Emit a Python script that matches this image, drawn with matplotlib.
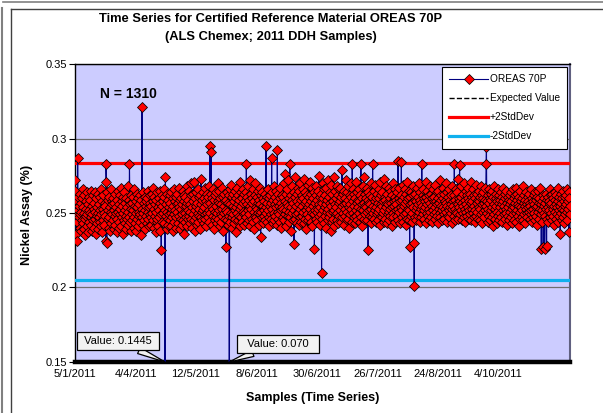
import numpy as np
import matplotlib.pyplot as plt
from matplotlib.lines import Line2D

plt.rcParams['font.family'] = ['Liberation Sans', 'DejaVu Sans']

# Ni assays, coded as thousandths above 0.200 % left to right
assay_codes = """
65 72 48 36 31 58 44 87 52 61  47 55 40 63 49 38 57 51 45 60  43 54 66 39 50 62 46 35 58 48  53 41 64 49 56 37 52 61 44 50  59 42 47 65 38 55 49 62 45 53
40 57 51 64 46 36 60 48 54 43  63 50 39 56 47 61 44 52 66 41  49 58 37 53 45 62 50 42 57 48  55 31 83 71 30 64 46 59 52 40  61 47 54 38 66 51 43 58 49 56
45 60 52 39 57 48 63 42 54 50  37 59 46 65 51 44 56 40 62 49  53 67 41 58 47 55 36 61 50 45  64 52 43 57 48 60 39 54 46 68  51 42 59 47 83 56 44 62 38 53
49 57 45 61 52 40 66 47 55 43  58 50 38 63 46 54 41 60 51 48  56 44 62 49 35 59 47 76 53 42  64 50 57 45 52 61 39 55 48 58  43 60 51 46 65 54 41 57 49 62
47 55 42 63 50 58 45 67 53 40  61 48 56 37 59 51 44 64 46 54  41 60 52 47 65 38 57 49 25 62  55 44 58 50 66 43 61 52 83 74  48 56 39 63 51 46 59 42 54 49
62 45 57 50 41 64 53 47 60 38  55 49 66 44 58 52 40 61 47 56  51 63 43 57 48 67 54 39 59 46  53 60 42 56 49 65 45 58 36 62  50 44 61 55 47 68 41 57 52 46
59 48 65 43 56 51 70 46 62 54  40 58 49 63 45 71 52 38 60 47  55 64 42 57 50 66 44 61 53 48  62 39 56 73 47 59 51 45 64 52  43 60 54 49 67 46 58 41 63 50
56 47 61 52 44 68 57 95 50 63  91 54 42 60 48 66 53 39 59 51  45 62 55 47 64 50 43 58 70 46  57 52 65 41 60 49 56 44 67 53  48 61 38 55 50 63 46 58 52 27
59 45 64 51 57 42 62 48 53 66  44 56 50 69 47 61 40 55 63 49  58 43 65 52 46 60 54 37 67 50  56 62 45 59 48 71 53 41 64 47  55 60 44 57 51 66 49 63 42 58
50 64 47 83 56 43 61 52 68 45  59 49 55 72 41 63 53 46 60 57  44 66 51 58 39 62 48 70 54 47  61 53 45 65 50 57 42 59 67 49  56 34 62 51 47 64 55 43 60 52
48 58 63 45 54 95 50 61 44 57  66 52 47 60 41 55 62 49 57 46  87 53 64 43 59 50 68 45 56 61  48 54 65 42 58 92 51 46 63 55  49 60 44 67 52 57 40 62 54 47
61 53 70 45 58 49 76 52 63 41  57 66 48 55 72 44 60 51 83 47  54 62 38 59 50 68 45 57 64 29  52 61 46 74 55 49 63 43 58 67  50 56 42 65 53 47 70 59 44 62
55 48 66 51 60 43 73 57 46 64  52 58 39 62 49 69 54 45 61 56  47 71 53 63 44 58 50 67 41 60  55 49 64 26 57 52 68 46 62 51  59 44 65 53 48 75 56 42 61 54
49 63 10 57 46 70 52 60 43 66  54 48 62 56 40 67 51 59 45 72  53 61 47 64 50 57 38 69 55 44  63 51 58 46 74 52 41 65 56 49  60 54 45 68 50 62 43 57 66 48
58 52 67 44 61 55 79 47 63 50  56 42 65 53 60 48 72 57 45 64  51 59 46 68 54 40 62 56 49 70  53 61 44 83 58 50 66 47 63 55  43 60 52 71 48 57 64 45 59 54
66 50 58 44 62 53 83 47 60 56  41 68 52 57 46 74 55 63 49 60  54 45 67 51 59 25 64 52 57 48  62 56 43 70 53 61 47 83 55 50  65 46 58 52 69 44 60 54 49 63
51 57 45 66 53 60 42 71 56 48  62 55 47 64 50 58 44 73 52 61  46 59 54 68 43 57 63 49 56 51  67 45 60 53 48 65 57 41 62 54  50 70 47 58 55 61 44 66 52 59
56 48 64 53 85 45 60 51 67 43  58 54 62 84 47 59 52 69 44 61  55 49 66 57 42 63 50 58 46 71  53 60 45 65 52 27 61 56 48 64  50 57 44 62 54 68 30 01 59 47
63 52 58 45 67 54 61 48 56 70  51 59 44 64 53 57 47 83 55 62  49 66 52 60 46 58 54 71 43 61  56 50 65 48 59 53 62 45 68 51  57 63 47 55 60 44 66 52 58 49
61 54 46 69 51 58 64 48 56 60  43 65 53 57 50 72 47 59 55 62  52 45 67 54 60 49 63 46 58 53  70 51 57 44 64 55 48 61 52 66  47 59 54 62 50 56 43 68 53 58
55 62 48 83 53 59 45 66 51 57  64 50 56 73 46 60 54 82 49 58  61 52 68 45 57 63 50 55 47 70  53 59 44 65 56 51 62 48 60 54  67 46 58 52 63 49 57 71 45 61
53 58 50 66 47 62 55 44 60 52  69 48 57 63 51 59 46 65 54 58  45 61 53 68 49 56 62 43 60 51  64 57 47 59 52 67 55 83 94 50  58 44 62 53 66 48 57 60 45 63
52 59 47 65 54 41 61 56 49 68  53 46 60 55 63 43 58 51 66 48  57 62 45 54 59 50 64 47 56 61  44 58 52 67 49 55 60 46 63 53  50 65 42 57 61 48 54 59 45 62
56 51 64 47 58 53 43 66 55 49  60 54 45 62 57 50 67 44 59 52  63 48 56 41 61 55 46 65 51 58  54 47 60 52 68 45 57 62 49 55  43 59 53 64 50 56 47 61 54 58
51 63 46 57 55 49 66 52 60 44  58 53 47 62 56 50 64 45 59 54  48 61 55 42 65 51 57 46 60 53  67 49 56 26 58 52 44 62 27 55  50 60 26 57 48 63 53 28 59 46
54 61 44 58 52 66 47 56 62 50  57 45 63 53 48 60 55 42 64 51  59 46 56 62 49 54 67 44 58 52  61 48 55 36 63 50 57 45 60 53  47 65 52 58 43 61 55 49 62 56
51 66 45 58 53 64 37 60 49 55
"""
# spikes outside the coded range
outlier_idx = [177, 238, 408]
outlier_val = [0.321, 0.1445, 0.070]

expected = 0.244
plus_2sd = 0.2834
minus_2sd = 0.2052

tick_pos = [0, 160, 320, 480, 640, 800, 960, 1120]
tick_labels = ['5/1/2011', '4/4/2011', '12/5/2011', '8/6/2011',
               '30/6/2011', '26/7/2011', '24/8/2011', '4/10/2011']

ni = 0.2 + np.array(assay_codes.split(), dtype=float) / 1000
ni[outlier_idx] = outlier_val
n = len(ni)
x = np.arange(n)

fig = plt.figure(figsize=(6.03, 4.13), dpi=100)
ax = fig.add_axes([0.1244, 0.1235, 0.8209, 0.7215])
ax.set_facecolor('#CCCCFF')

ax.axhline(plus_2sd, color='#FF0000', lw=2.3, zorder=3, label='+2StdDev')
ax.axhline(minus_2sd, color='#0FB0EE', lw=2.3, zorder=3, label='-2StdDev')
ax.axhline(expected, color='black', ls='--', lw=1, zorder=3, label='Expected Value')
ax.plot(x, ni, color='#000080', lw=0.8, marker='D', ms=4.6, mfc='#FF0000',
        mec='black', mew=0.55, zorder=4, label='OREAS 70P')

ax.set_xlim(0, n - 1)
ax.set_ylim(0.15, 0.35)
ax.set_yticks([0.15, 0.2, 0.25, 0.3, 0.35])
ax.set_yticklabels(['0.15', '0.2', '0.25', '0.3', '0.35'])
ax.set_xticks(tick_pos)
ax.set_xticklabels(tick_labels)
ax.tick_params(axis='y', length=4, width=0.8, pad=2, labelsize=8)
ax.tick_params(axis='x', length=0, pad=5, labelsize=8)
ax.yaxis.grid(True, color='#6E6E6E', lw=0.9)
ax.set_axisbelow(True)

ax.spines['bottom'].set_linewidth(3.2)
ax.spines['bottom'].set_color('black')
ax.spines['right'].set_color('#606080')
ax.spines['right'].set_linewidth(1.5)
for s in ['top', 'left']:
    ax.spines[s].set_linewidth(1)

ax.text(66, 0.33, 'N = 1310', fontsize=10, fontweight='bold', va='center', zorder=6)

box = dict(boxstyle='square,pad=0.35', fc='#F2F2F2', ec='black', lw=0.9)
arrow = dict(arrowstyle='wedge,tail_width=0.6', fc='#F2F2F2', ec='black', lw=0.9,
             shrinkA=0, shrinkB=0)
ax.annotate(' Value: 0.1445 ', xy=(238, 0.15), xytext=(-34, 15),
            textcoords='offset points', ha='center', va='center', fontsize=8,
            bbox=box, arrowprops=arrow, annotation_clip=False, zorder=6)
ax.annotate('  Value: 0.070  ', xy=(408, 0.15), xytext=(35, 13),
            textcoords='offset points', ha='center', va='center', fontsize=8,
            bbox=box, arrowprops=arrow, annotation_clip=False, zorder=6)

handles, labels = ax.get_legend_handles_labels()
order = [3, 2, 0, 1]
leg = ax.legend([handles[i] for i in order], [labels[i] for i in order],
                loc='upper right', bbox_to_anchor=(0.994, 0.99), fontsize=7.3,
                frameon=True, fancybox=False, edgecolor='black', framealpha=1,
                handlelength=3.8, labelspacing=0.9, borderpad=0.7,
                handletextpad=0.2, borderaxespad=0)
leg.get_frame().set_linewidth(0.8)
leg.set_zorder(7)

fig.text(0.449, 0.955, 'Time Series for Certified Reference Material OREAS 70P',
         ha='center', va='center', fontsize=9.3, fontweight='bold')
fig.text(0.449, 0.91, '(ALS Chemex; 2011 DDH Samples)',
         ha='center', va='center', fontsize=9.3, fontweight='bold')
fig.text(0.519, 0.036, 'Samples (Time Series)', ha='center', va='center',
         fontsize=9, fontweight='bold')
fig.text(0.045, 0.48, 'Nickel Assay (%)', ha='center', va='center',
         rotation=90, fontsize=9, fontweight='bold')

# chart frame
fig.add_artist(Line2D([3 / 603, 1], [1 - 1.5 / 413] * 2, color='#808080', lw=1.2))
fig.add_artist(Line2D([1.5 / 603] * 2, [0, 1 - 8 / 413], color='#808080', lw=1.5))
fig.add_artist(Line2D([11 / 603] * 2, [0, 1 - 9 / 413], color='#404040', lw=1))
fig.add_artist(Line2D([11 / 603, 1], [1 - 9 / 413] * 2, color='#404040', lw=1))

fig.savefig('out.png', dpi=100)
